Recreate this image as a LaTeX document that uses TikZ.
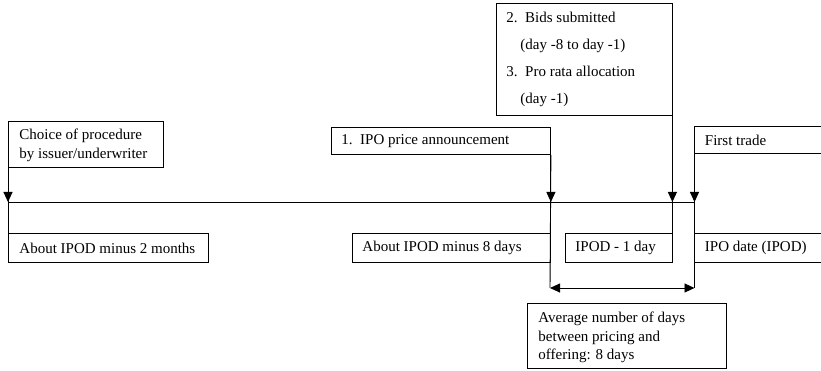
\documentclass[tikz,border=0pt]{standalone}
\usepackage{fontspec}
\setmainfont{Liberation Serif}
\usetikzlibrary{arrows.meta}
\begin{document}
\begin{tikzpicture}[x=1pt,y=-1pt, line width=0.9pt,
  box/.style={draw, inner sep=0pt, anchor=north west},
  openbox/.style={box, draw=none},
  lbl/.style={inner sep=0pt, anchor=west, align=left, font=\fontsize{15}{18.5}\selectfont},
  tip/.style={-{Triangle[width=9pt,length=10pt]}},
  dbltip/.style={{Triangle[width=9pt,length=10pt]}-{Triangle[width=9pt,length=10pt]}}]
\useasboundingbox[fill=white] (0,0) rectangle (821,371);
\coordinate (redge) at (821,0);
% boxes
\node[box, minimum width=155pt, minimum height=46pt] (choice) at (8,121) {};
\node[box, minimum width=200pt, minimum height=29pt] (m2) at (8,233) {};
\node[box, minimum width=219pt, minimum height=27pt] (ann) at (331,127) {};
\node[box, minimum width=175.5pt, minimum height=112pt] (bids) at (496,3) {};
\node[openbox, minimum width=126.5pt, minimum height=27pt] (first) at (694.5,126) {};
\node[box, minimum width=198pt, minimum height=29pt] (m8) at (352,233) {};
\node[box, minimum width=106.5pt, minimum height=29pt] (m1) at (565,233) {};
\node[openbox, minimum width=126.5pt, minimum height=29pt] (ipod) at (694.5,233) {};
\node[box, minimum width=199pt, minimum height=65pt] (avg) at (527,303) {};
% texts
\node[lbl] (tchoice) at ([xshift=11pt,yshift=-1pt]choice.west) {Choice of procedure\\by issuer/underwriter};
\node[lbl] (tm2) at ([xshift=11pt]m2.west) {About IPOD minus 2 months};
\node[lbl] (tann) at ([xshift=10pt]ann.west) {1.\ \ IPO price announcement};
\node[lbl] (tbids) at ([xshift=10pt]bids.west) {2.\ \ Bids submitted\\[8.5pt]\hspace*{14pt}(day -8 to day -1)\\[8.5pt]3.\ \ Pro rata allocation\\[8.5pt]\hspace*{14pt}(day -1)};
\node[lbl] (tfirst) at ([xshift=10pt]first.west) {First trade};
\node[lbl] (tm8) at ([xshift=10pt]m8.west) {About IPOD minus 8 days};
\node[lbl] (tm1) at ([xshift=10pt]m1.west) {IPOD - 1 day};
\node[lbl] (tipod) at ([xshift=10pt]ipod.west) {IPO date (IPOD)};
\node[lbl] (tavg) at ([xshift=11pt,yshift=-1.5pt]avg.west) {Average number of days\\between pricing and\\offering: 8 days};
% open boxes on the right edge
\draw (first.north west -| redge) -- (first.north west) -- (first.south west) -- (first.south west -| redge);
\draw (ipod.north west -| redge) -- (ipod.north west) -- (ipod.south west) -- (ipod.south west -| redge);
% timeline
\coordinate (tl) at (8,202);
\coordinate (tr) at (694.5,202);
\coordinate (dl) at (550,288);
\coordinate (dr) at (694.5,288);
\draw (tl) -- (tr);
% connectors
\draw (choice.south west) -- (m2.north west);
\draw[tip] (choice.south west) -- (choice.south west |- tl);
\draw (ann.south east) -- (dl);
\draw[tip] (ann.south east) -- (ann.south east |- tl);
\draw (bids.south east) -- (m1.north east);
\draw[tip] (bids.south east) -- (bids.south east |- tl);
\draw (first.south west) -- (dr);
\draw[tip] (first.south west) -- (first.south west |- tl);
\draw[dbltip] (dl) -- (dr);
\end{tikzpicture}
\end{document}
